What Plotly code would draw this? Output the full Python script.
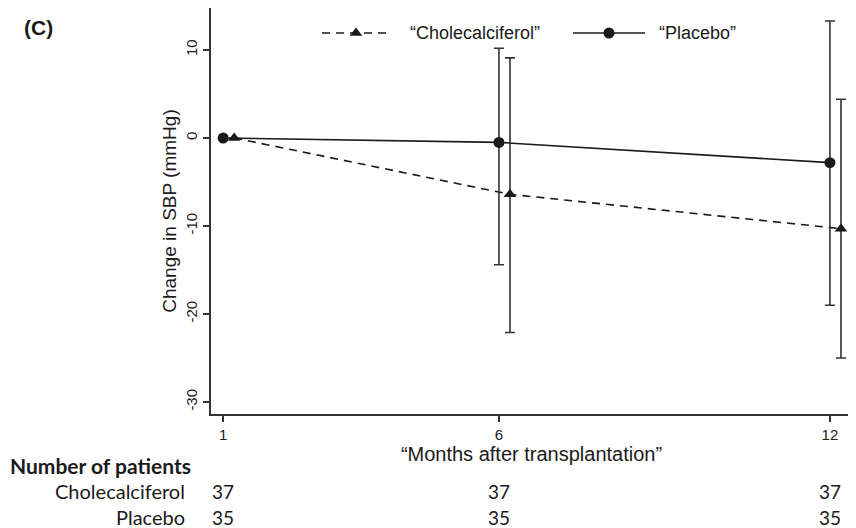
import plotly.graph_objects as go

months = [1, 6, 12]
month_labels = ["1", "6", "12"]

chole_mean = [0.0, -6.4, -10.3]
chole_upper = [0.0, 9.1, 4.4]
chole_lower = [0.0, -22.1, -25.0]

placebo_mean = [0.0, -0.5, -2.8]
placebo_upper = [0.0, 10.2, 13.3]
placebo_lower = [0.0, -14.4, -19.0]

n_chole = [37, 37, 37]
n_placebo = [35, 35, 35]

y_ticks = [-30, -20, -10, 0, 10]
y_tick_labels = ["-30", "-20", "-10", "0", "10"]

series_names = ["\u201cCholecalciferol\u201d", "\u201cPlacebo\u201d"]

# display offset for the Cholecalciferol group (dodge)
DODGE = 0.2
INK = "#1a1a1a"
AX = "#333333"
FONT = "Liberation Sans, Arial, sans-serif"
TFONT = "Lato, Carlito, sans-serif"
DASH = "8px,6px"

chole_x = [m + DODGE for m in months]

fig = go.Figure()

fig.add_trace(go.Scatter(
    x=chole_x, y=chole_mean, mode="lines+markers", name=series_names[0],
    line=dict(color=INK, width=1.6, dash=DASH),
    marker=dict(symbol="triangle-up", size=11, color=INK),
    error_y=dict(type="data", symmetric=False,
                 array=[u - m for u, m in zip(chole_upper, chole_mean)],
                 arrayminus=[m - l for m, l in zip(chole_mean, chole_lower)],
                 color=AX, thickness=1.6, width=5),
    showlegend=False,
))
fig.add_trace(go.Scatter(
    x=months, y=placebo_mean, mode="lines+markers", name=series_names[1],
    line=dict(color=INK, width=1.6),
    marker=dict(symbol="circle", size=11, color=INK),
    error_y=dict(type="data", symmetric=False,
                 array=[u - m for u, m in zip(placebo_upper, placebo_mean)],
                 arrayminus=[m - l for m, l in zip(placebo_mean, placebo_lower)],
                 color=AX, thickness=1.6, width=5),
    showlegend=False,
))

# ---- legend keys drawn on an overlay axis with 0..1 (fraction-of-plot) coordinates
LEG_Y = 0.9384
legend_items = [
    dict(x0=0.1732, x1=0.2793, xm=0.2262, xt=0.3073, dash=DASH, symbol="triangle-up"),
    dict(x0=0.5647, x1=0.6771, xm=0.6209, xt=0.6958, dash="solid", symbol="circle"),
]
for item, name in zip(legend_items, series_names):
    fig.add_trace(go.Scatter(
        x=[item["x0"], item["xm"], item["x1"]], y=[LEG_Y] * 3, xaxis="x2", yaxis="y2",
        mode="lines", line=dict(color=INK, width=1.6, dash=item["dash"]),
        showlegend=False, hoverinfo="skip"))
    fig.add_trace(go.Scatter(
        x=[item["xm"]], y=[LEG_Y], xaxis="x2", yaxis="y2", mode="markers",
        marker=dict(symbol=item["symbol"], size=11, color=INK),
        showlegend=False, hoverinfo="skip"))
    fig.add_annotation(text=name, xref="paper", yref="paper", x=item["xt"], y=LEG_Y,
                       xanchor="left", yanchor="middle", showarrow=False,
                       font=dict(size=18, family=FONT, color=INK))

fig.update_layout(
    width=848, height=520,
    margin=dict(l=203, r=4, t=0, b=114),
    paper_bgcolor="white", plot_bgcolor="white",
    font=dict(family=FONT, color=INK, size=15),
    showlegend=False,
    xaxis=dict(range=[0.78, 12.4], tickvals=months, ticktext=month_labels,
               showgrid=False, zeroline=False, showline=True, linecolor=AX, linewidth=1.5,
               ticks="outside", ticklen=6, tickcolor=AX, tickwidth=1.5,
               tickfont=dict(size=15),
               title=dict(text="\u201cMonths after transplantation\u201d", font=dict(size=20), standoff=0)),
    yaxis=dict(range=[-31.36, 14.77], tickvals=y_ticks, ticktext=y_tick_labels, tickangle=-90,
               showgrid=False, zeroline=False, showline=True, linecolor=AX, linewidth=1.5,
               ticks="outside", ticklen=6, tickcolor=AX, tickwidth=1.5,
               tickfont=dict(size=15),
               title=dict(text="Change in SBP (mmHg)", font=dict(size=19), standoff=2)),
    xaxis2=dict(overlaying="x", range=[0, 1], visible=False, fixedrange=True),
    yaxis2=dict(overlaying="y", range=[0, 1], visible=False, fixedrange=True),
)

# panel label
fig.add_annotation(text="<b>(C)</b>", xref="paper", yref="paper", x=-0.2949, y=0.953,
                   xanchor="left", yanchor="middle", showarrow=False,
                   font=dict(size=21, family=FONT, color=INK))

# number-at-risk table
fig.add_annotation(text="<b>Number of patients</b>", xref="paper", yref="paper",
                   x=-0.3167, y=-0.128, xanchor="left", yanchor="middle", showarrow=False,
                   font=dict(size=21, family=TFONT, color=INK))
for label, counts, yp in [("Cholecalciferol", n_chole, -0.1897), ("Placebo", n_placebo, -0.2537)]:
    fig.add_annotation(text=label, xref="paper", yref="paper", x=-0.0375, y=yp,
                       xanchor="right", yanchor="middle", showarrow=False,
                       font=dict(size=20, family=TFONT, color=INK))
    for m, c in zip(months, counts):
        fig.add_annotation(text=str(c), xref="x", yref="paper", x=m, y=yp,
                           xanchor="center", yanchor="middle", showarrow=False,
                           font=dict(size=19, family=TFONT, color=INK))

fig.write_html("out.html")
